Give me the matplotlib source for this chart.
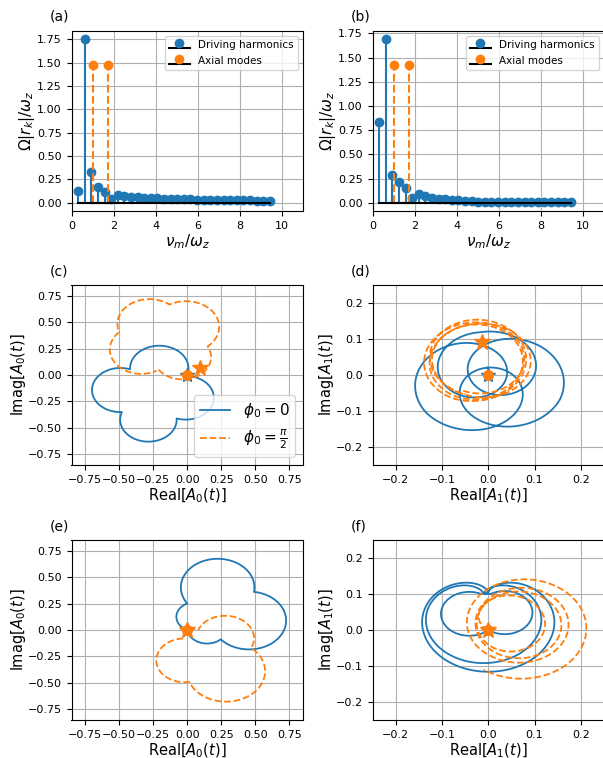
import numpy as np
import matplotlib
matplotlib.use("Agg")
import matplotlib.pyplot as plt
from matplotlib.lines import Line2D

# ---- panel (a)/(b): spectra ----
nu_drive = [0.31, 0.63, 0.94, 1.26, 1.57, 1.88, 2.20, 2.51, 2.83, 3.14,
            3.46, 3.77, 4.08, 4.40, 4.71, 5.03, 5.34, 5.65, 5.97, 6.28,
            6.60, 6.91, 7.23, 7.54, 7.85, 8.17, 8.48, 8.80, 9.11, 9.42]
amp_a = [0.13, 1.75, 0.33, 0.17, 0.115, 0.045, 0.085, 0.075, 0.065, 0.06,
         0.055, 0.05, 0.05, 0.045, 0.045, 0.04, 0.04, 0.037, 0.035, 0.033,
         0.032, 0.03, 0.03, 0.028, 0.027, 0.025, 0.025, 0.023, 0.022, 0.02]
amp_b = [0.83, 1.69, 0.29, 0.21, 0.15, 0.05, 0.09, 0.07, 0.05, 0.04,
         0.035, 0.03, 0.025, 0.02, 0.015, 0.012, 0.01, 0.008, 0.006, 0.005,
         0.005, 0.005, 0.006, 0.007, 0.008, 0.009, 0.01, 0.01, 0.011, 0.012]
nu_axial = [1.0, 1.73]
axial_a = [1.47, 1.47]
axial_b = [1.42, 1.42]

# ---- trajectories ----
# cloud curves: notch points (counter-clockwise) and lobe bulges
c_blue_pts = [(0.0, 0.0), (-0.42, 0.054), (-0.48, -0.35), (-0.078, -0.41), (0.01, -0.01)]
c_blue_bulge = [0.25, 0.25, 0.25, 0.23]
c_orange_pts = [(-0.21, 0.05), (0.15, 0.27), (-0.13, 0.665), (-0.50, 0.405), (-0.225, 0.04)]
c_orange_bulge = [0.20, 0.22, 0.17, 0.20]
e_blue_pts = [(0.0, 0.0), (0.246, -0.088), (0.49, 0.36), (0.0, 0.25), (0.0, 0.0)]
e_blue_bulge = [0.08, 0.37, 0.37, 0.08]
e_orange_pts = [(-0.03, -0.08), (0.015, -0.49), (0.47, -0.17), (0.08, 0.0)]
e_orange_bulge = [0.22, 0.36, 0.22]
f_blue_inner_pts = [(-0.015, 0.10), (0.0, 0.0), (0.005, 0.10)]
f_blue_inner_bulge = [0.095, 0.093]
# cardioid loops of panel (f): cusp x, cusp y, size
f_blue_cusp_x = [-0.01, 0.0]
f_blue_cusp_y = [0.100, 0.104]
f_blue_size = [0.048, 0.055]
# three-loop curve of panel (d): loop direction (deg), centre distance, loop radius
d_blue_phi = [217, 337, 457, 577, 697]
d_blue_a = [0.075, 0.074, 0.03, 0.075, 0.074]
d_blue_b = [0.095, 0.095, 0.09, 0.095, 0.095]
# multi-turn loops: centre x, centre y, radius per turn
d_orange_cx = [-0.02, -0.035, -0.01, -0.03, -0.015]
d_orange_cy = [0.05, 0.035, 0.05, 0.03, 0.045]
d_orange_r = [0.10, 0.108, 0.112, 0.098, 0.105]
f_orange_cx = [0.03, 0.06, 0.07, 0.068, 0.08]
f_orange_cy = [0.04, 0.02, 0.015, 0.018, 0.01]
f_orange_r = [0.05, 0.085, 0.095, 0.11, 0.15]

# start markers
star_blue = {"c": (0.0, 0.0), "d": (0.0, 0.0), "e": (0.0, 0.0), "f": (0.0, 0.0)}
star_orange = {"c": (0.09, 0.07), "d": (-0.013, 0.092), "e": (0.0, 0.0), "f": (0.0, 0.0)}


def cloud(pts, bulges, n=90):
    pts = np.asarray(pts, float)
    xs, ys = [], []
    for p, q, s in zip(pts[:-1], pts[1:], bulges):
        d = q - p
        L = np.hypot(*d)
        m = (p + q) / 2
        nout = np.array([d[1], -d[0]]) / L
        rho = (s**2 + L**2 / 4) / (2 * s)
        o = m + (s - rho) * nout
        a0 = np.arctan2(*(p - o)[::-1])
        a1 = np.arctan2(*(q - o)[::-1])
        a1 = a0 + (a1 - a0) % (2 * np.pi)
        ang = np.linspace(a0, a1, n)
        xs.append(o[0] + rho * np.cos(ang))
        ys.append(o[1] + rho * np.sin(ang))
    return np.concatenate(xs), np.concatenate(ys)


def cardioid(cx, cy, r, n=300):
    th = np.linspace(0, 2 * np.pi, n)
    w = 1j * r * (2 * np.exp(1j * th) - np.exp(2j * th) - 1)
    return cx + w.real, cy + w.imag


def loops(cx, cy, r, phase0, sense, n=200):
    k = len(r) - 1
    t = np.linspace(0, k, n * k)
    xc = np.interp(t, np.arange(k + 1), cx)
    yc = np.interp(t, np.arange(k + 1), cy)
    rr = np.interp(t, np.arange(k + 1), r)
    ang = np.deg2rad(phase0) + sense * 2 * np.pi * t
    return xc + rr * np.cos(ang), yc + rr * np.sin(ang)


def three_loops(phi, a, b, n=800):
    keys = np.arange(len(phi))
    t = np.linspace(0.5, 3.5, n)
    p = np.deg2rad(np.interp(t, keys, phi))
    p0 = np.deg2rad(phi[0])
    z = (np.interp(t, keys, a) * np.exp(1j * p)
         + np.interp(t, keys, b) * np.exp(1j * (4 * p - 3 * p0)))
    return z.real, z.imag


W, H = 603, 758
fig = plt.figure(figsize=(W / 100, H / 100), dpi=100)


def add_ax(left, top):
    return fig.add_axes([left / W, 1 - (top + 180) / H, 231.5 / W, 180 / H])


ax_a = add_ax(71.5, 31)
ax_b = add_ax(372.5, 31)
ax_c = add_ax(71.5, 285)
ax_d = add_ax(372.5, 285)
ax_e = add_ax(71.5, 540)
ax_f = add_ax(372.5, 540)

for ax, amp, ax_amp in [(ax_a, amp_a, axial_a), (ax_b, amp_b, axial_b)]:
    ax.stem(nu_drive, amp, linefmt='C0-', markerfmt='C0o', basefmt='k-',
            label='Driving harmonics')
    ax.stem(nu_axial, ax_amp, linefmt='C1--', markerfmt='C1o', basefmt='k-',
            label='Axial modes')
    ax.set_xlim(0, 11)
    ax.set_yticks(np.arange(0, 1.76, 0.25))
    ax.grid(True)
    ax.set_xlabel(r'$\nu_m/\omega_z$', fontsize=11, labelpad=1)
    ax.set_ylabel(r'$\Omega|r_k|/\omega_z$', fontsize=11, labelpad=0)
    ax.legend(loc='upper right', fontsize=7.5)
    ax.tick_params(labelsize=8)

# trajectories
curves = {
    "c": (cloud(c_blue_pts, c_blue_bulge), cloud(c_orange_pts, c_orange_bulge)),
    "d": (three_loops(d_blue_phi, d_blue_a, d_blue_b),
          loops(d_orange_cx, d_orange_cy, d_orange_r, 250, 1)),
    "e": (cloud(e_blue_pts, e_blue_bulge), cloud(e_orange_pts, e_orange_bulge)),
}
fi = cloud(f_blue_inner_pts, f_blue_inner_bulge)
fx, fy = [fi[0]], [fi[1]]
for cx, cy, r in zip(f_blue_cusp_x, f_blue_cusp_y, f_blue_size):
    x, y = cardioid(cx, cy, r)
    fx.append(x)
    fy.append(y)
curves["f"] = ((np.concatenate(fx), np.concatenate(fy)),
               loops(f_orange_cx, f_orange_cy, f_orange_r, 233, -1))

axes = {"c": ax_c, "d": ax_d, "e": ax_e, "f": ax_f}
for key, ax in axes.items():
    (bx, by), (ox, oy) = curves[key]
    ax.plot(bx, by, '-', color='C0', lw=1.3)
    ax.plot(*star_blue[key], '*', color='C0', ms=10)
    ax.plot(ox, oy, '--', color='C1', lw=1.3)
    ax.plot(0, 0, 'o', color='C1', ms=7)
    ax.plot(*star_orange[key], '*', color='C1', ms=12)
    ax.grid(True)
    ax.tick_params(labelsize=8)
    if key in ("c", "e"):
        ax.set_xlim(-0.85, 0.85)
        ax.set_ylim(-0.85, 0.85)
        ticks = np.arange(-0.75, 0.76, 0.25)
        ax.set_xticks(ticks)
        ax.set_yticks(ticks)
        ax.set_xlabel(r'Real$[A_0(t)]$', fontsize=10.5, labelpad=1)
        ax.set_ylabel(r'Imag$[A_0(t)]$', fontsize=10.5, labelpad=0)
    else:
        ax.set_xlim(-0.25, 0.25)
        ax.set_ylim(-0.25, 0.25)
        ticks = np.arange(-0.2, 0.21, 0.1)
        ax.set_xticks(ticks)
        ax.set_yticks(ticks)
        ax.set_xlabel(r'Real$[A_1(t)]$', fontsize=10.5, labelpad=1)
        ax.set_ylabel(r'Imag$[A_1(t)]$', fontsize=10.5, labelpad=0)

ax_c.legend(handles=[Line2D([], [], color='C0', lw=1.3, label=r'$\phi_0=0$'),
                     Line2D([], [], color='C1', ls='--', lw=1.3,
                            label=r'$\phi_0=\frac{\pi}{2}$')],
            loc='lower right', fontsize=11)

for lab, x, y in [("(a)", 50, 17), ("(b)", 351, 17), ("(c)", 50, 272),
                  ("(d)", 351, 272), ("(e)", 50, 527), ("(f)", 351, 527)]:
    fig.text(x / W, 1 - y / H, lab, fontsize=10, va='center', ha='left')

fig.savefig("out.png", dpi=100)
